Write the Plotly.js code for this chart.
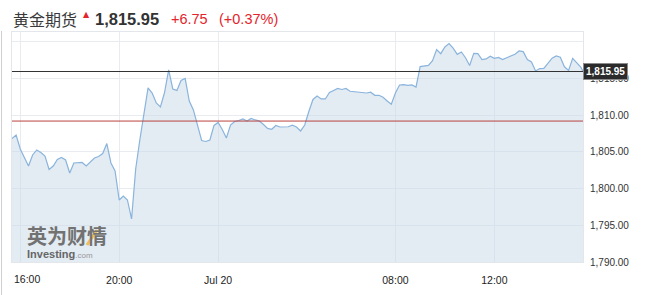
<!DOCTYPE html>
<html><head><meta charset="utf-8">
<script src="https://cdn.plot.ly/plotly-3.0.1.min.js"></script>
<style>html,body{margin:0;padding:0;background:#fff;}#chart{width:648px;height:295px;}</style>
</head><body><div id="chart"></div>
<script>
const chartTitle = '黄金期货';
const lastPrice = 1815.95;
const lastPriceText = '1,815.95';
const changeText = '+6.75';
const changePctText = '(+0.37%)';
const prevClose = 1809.20;

const times19 = ['15:40','15:50','16:00','16:10','16:20','16:30','16:40','16:50','17:00','17:10','17:20','17:30','17:40','17:50',
'18:00','18:10','18:20','18:30','18:40','18:50','19:00','19:10','19:20','19:30','19:40','19:50',
'20:00','20:10','20:20','20:30','20:40','20:50','21:00','21:10','21:20','21:30','21:40','21:50',
'22:00','22:10','22:20','22:30','22:40','22:50','23:00','23:10','23:20','23:30','23:40','23:50'];
const times20 = ['00:00','00:10','00:20','00:30','00:40','00:50','01:00','01:10','01:20','01:30','01:40','01:50',
'02:00','02:10','02:20','02:30','02:40','02:50','03:00','03:10','03:20','03:30','03:40','03:50',
'04:00','04:10','04:20','04:30','04:40','04:50',
'05:50','06:00','06:10','06:20','06:30','06:40','06:50','07:00','07:10','07:20','07:30','07:40','07:50',
'08:00','08:10','08:20','08:30','08:40','08:50','09:00','09:10','09:20','09:30','09:40','09:50',
'10:00','10:10','10:20','10:30','10:40','10:50','11:00','11:10','11:20','11:30','11:40','11:50',
'12:00','12:10','12:20','12:30','12:40','12:50','13:00','13:10','13:20','13:30','13:40','13:50',
'14:00','14:10','14:20','14:30','14:40','14:50','15:00','15:10','15:20','15:30','15:35'];

const prices = [1806.83,1807.30,1805.40,1804.24,1803.08,1804.58,1805.26,1804.92,1804.44,1802.60,
1803.08,1803.96,1804.24,1803.90,1802.13,1803.49,1803.49,1803.56,1803.08,1803.56,
1804.17,1804.37,1804.78,1806.14,1803.49,1802.40,1798.45,1798.99,1798.45,1795.86,
1802.67,1806.62,1810.03,1813.71,1813.02,1811.66,1811.12,1813.09,1816.16,1813.57,
1813.37,1814.73,1815.00,1811.93,1810.71,1808.53,1806.55,1806.42,1806.62,1808.60,
1809.01,1808.05,1806.89,1808.66,1809.14,1809.28,1809.48,1809.21,1809.55,1809.35,
1809.21,1808.73,1808.19,1808.08,1808.60,1808.39,1808.39,1808.42,1808.64,1808.39,
1807.85,1808.66,1810.50,1812.14,1812.62,1812.21,1812.21,1813.09,1813.37,1813.64,
1813.50,1813.64,1813.26,1813.20,1813.09,1813.08,1813.02,1813.13,1812.71,1812.71,
1812.44,1811.93,1811.49,1813.02,1814.11,1814.16,1814.06,1814.13,1813.84,1816.61,
1816.73,1816.78,1817.43,1818.95,1818.38,1819.29,1819.75,1819.13,1818.28,1818.61,
1817.82,1816.76,1818.43,1818.38,1817.57,1817.66,1818.04,1817.75,1817.87,1817.57,
1817.83,1818.07,1818.30,1818.75,1818.66,1817.59,1817.25,1816.02,1816.35,1816.38,
1817.11,1817.77,1818.07,1817.90,1816.59,1816.08,1817.74,1817.06,1816.53,1815.95];

const xTickVals = ['2021-07-19 16:00','2021-07-19 20:00','2021-07-20 00:00','2021-07-20 08:00','2021-07-20 12:00'];
const xTickText = ['16:00','20:00','Jul 20','08:00','12:00'];
const yTickVals = [1790,1795,1800,1805,1810,1815,1820];
const yTickText = ['1,790.00','1,795.00','1,800.00','1,805.00','1,810.00','1,815.00',''];

const xs = times19.map(t => '2021-07-19 ' + t).concat(times20.map(t => '2021-07-20 ' + t));

const W = 648, H = 295, L = 12, R = 65, T = 32, B = 33;
const pw = W - L - R, ph = H - T - B;
const pX = x => (x - L) / pw;
const pY = y => (H - B - y) / ph;
const FONT = 'Liberation Sans, Arial, sans-serif';
const RED = '#e3242b';

const trace = {
  x: xs, y: prices, type: 'scatter', mode: 'lines',
  line: {color: '#8ab4dc', width: 1.2},
  fill: 'tozeroy', fillcolor: 'rgba(200,216,232,0.5)',
  hoverinfo: 'skip'
};

const layout = {
  width: W, height: H,
  margin: {l: L, r: R, t: T, b: B, pad: 0},
  paper_bgcolor: '#fff', plot_bgcolor: '#fff',
  showlegend: false,
  xaxis: {
    type: 'date',
    range: ['2021-07-19 15:40', '2021-07-20 15:35'],
    rangebreaks: [{values: ['2021-07-20 05:00:00'], dvalue: 3000000}],
    tickmode: 'array', tickvals: xTickVals,
    ticktext: [''].concat(xTickText.slice(1)),
    ticks: 'outside', ticklen: 8, tickcolor: 'rgba(0,0,0,0)',
    showgrid: true, gridcolor: '#e8ecf0', gridwidth: 1,
    showline: true, mirror: true, linecolor: '#e3e7ec', linewidth: 1,
    zeroline: false,
    tickfont: {family: FONT, size: 10.5, color: '#222'}
  },
  yaxis: {
    side: 'right',
    range: [1790, 1821.33],
    tickmode: 'array', tickvals: yTickVals, ticktext: yTickText,
    ticks: 'outside', ticklen: 4, tickcolor: 'rgba(0,0,0,0)',
    showgrid: true, gridcolor: '#e8ecf0', gridwidth: 1,
    showline: true, mirror: true, linecolor: '#e3e7ec', linewidth: 1,
    zeroline: false,
    tickfont: {family: FONT, size: 10, color: '#333'}
  },
  shapes: [
    {type: 'line', xref: 'paper', yref: 'y', x0: 0, x1: 1, y0: lastPrice, y1: lastPrice,
     line: {color: '#333', width: 1}},
    {type: 'line', xref: 'paper', yref: 'y', x0: 0, x1: 1, y0: prevClose, y1: prevClose,
     line: {color: '#b9433f', width: 1}},
    {type: 'line', xref: 'paper', yref: 'paper', x0: pX(1.5), x1: pX(1.5), y0: pY(31), y1: pY(296),
     line: {color: '#cfcfcf', width: 1}},
    {type: 'line', xref: 'paper', yref: 'paper', x0: pX(87), x1: pX(97), y0: pY(245), y1: pY(230),
     line: {color: 'rgba(238,188,80,0.95)', width: 3}}
  ],
  annotations: [
    {xref: 'paper', yref: 'paper', x: pX(11), y: pY(19), xanchor: 'left', yanchor: 'middle', showarrow: false,
     text: chartTitle, font: {family: 'Noto Sans CJK SC', size: 16, color: '#3a3a3a'}},
    {xref: 'paper', yref: 'paper', x: pX(81), y: pY(15), xanchor: 'left', yanchor: 'middle', showarrow: false,
     text: '▲', font: {family: 'DejaVu Sans', size: 8, color: RED}},
    {xref: 'paper', yref: 'paper', x: pX(93), y: pY(19), xanchor: 'left', yanchor: 'middle', showarrow: false,
     text: '<b>' + lastPriceText + '</b>', font: {family: FONT, size: 16.5, color: '#333'}},
    {xref: 'paper', yref: 'paper', x: pX(169), y: pY(19), xanchor: 'left', yanchor: 'middle', showarrow: false,
     text: changeText, font: {family: FONT, size: 14.5, color: RED}},
    {xref: 'paper', yref: 'paper', x: pX(217), y: pY(19), xanchor: 'left', yanchor: 'middle', showarrow: false,
     text: changePctText, font: {family: FONT, size: 14.5, color: RED}},
    {xref: 'paper', yref: 'y', x: 1, y: lastPrice, xanchor: 'left', yanchor: 'middle', showarrow: false,
     text: '<b>' + lastPriceText + '</b>', font: {family: FONT, size: 10, color: '#fff'},
     bgcolor: '#2b2b2b', bordercolor: '#8a8a8a', borderwidth: 1, borderpad: 2},
    {xref: 'paper', yref: 'paper', x: pX(27), y: pY(279), xanchor: 'center', yanchor: 'middle', showarrow: false,
     text: xTickText[0], font: {family: FONT, size: 10.5, color: '#222'}},
    {xref: 'paper', yref: 'paper', x: pX(25), y: pY(235.5), xanchor: 'left', yanchor: 'middle', showarrow: false,
     text: '<b>英为财情</b>', font: {family: 'Noto Sans CJK SC', size: 20, color: '#727272'}},
    {xref: 'paper', yref: 'paper', x: pX(25), y: pY(253.5), xanchor: 'left', yanchor: 'middle', showarrow: false,
     text: '<b>Investing</b><span style="font-size:8px;color:#999">.com</span>', font: {family: FONT, size: 11, color: '#666'}}
  ]
};

Plotly.newPlot('chart', [trace], layout, {staticPlot: true, displayModeBar: false});
</script>
</body></html>
